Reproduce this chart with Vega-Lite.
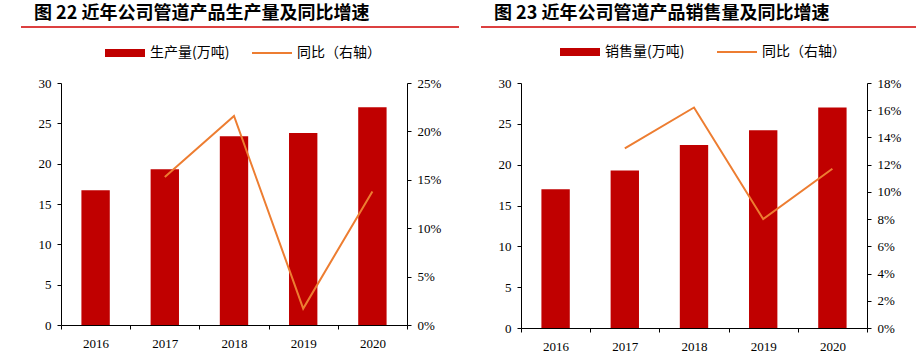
{
  "$schema": "https://vega.github.io/schema/vega-lite/v6.json",
  "padding": {"left": 20, "top": 5, "right": 0, "bottom": 5},
  "background": "white",
  "config": {
    "view": {"stroke": null},
    "axis": {
      "labelFont": "Liberation Serif", "labelFontSize": 13, "labelColor": "#000",
      "domainColor": "#000", "tickColor": "#000", "tickSize": 4, "labelPadding": 6,
      "grid": false, "title": null
    },
    "legend": {"labelFont": "Noto Sans CJK SC", "labelFontSize": 14, "labelColor": "#000", "padding": 0, "labelOffset": 4}
  },
  "bounds": "flush",
  "spacing": 66,
  "vconcat": [
    {
      "bounds": "flush",
      "spacing": 114,
      "hconcat": [
        {
          "width": 346, "height": 0,
          "data": {"values": [{}]},
          "title": {"text": "图 22 近年公司管道产品生产量及同比增速", "anchor": "start", "frame": "group", "font": "Noto Sans CJK SC", "fontWeight": "bold", "fontSize": 18, "color": "#000", "baseline": "bottom", "offset": -24, "dx": -27},
          "mark": {"type": "rule", "color": "#D00000", "strokeWidth": 1.5, "clip": false},
          "encoding": {"x": {"datum": -0.1156, "scale": {"domain": [0, 1]}, "axis": null}, "x2": {"datum": 1.1503}}
        },
        {
          "width": 346, "height": 0,
          "data": {"values": [{}]},
          "title": {"text": "图 23 近年公司管道产品销售量及同比增速", "anchor": "start", "frame": "group", "font": "Noto Sans CJK SC", "fontWeight": "bold", "fontSize": 18, "color": "#000", "baseline": "bottom", "offset": -24, "dx": -27},
          "mark": {"type": "rule", "color": "#D00000", "strokeWidth": 1.5, "clip": false},
          "encoding": {"x": {"datum": -0.1156, "scale": {"domain": [0, 1]}, "axis": null}, "x2": {"datum": 1.1445}}
        }
      ]
    },
    {
      "bounds": "flush",
      "spacing": 114,
      "hconcat": [
        {
          "width": 346, "height": 242,
          "data": {"values": [
            {"year": "2016", "qty": 16.7, "yoy": null},
            {"year": "2017", "qty": 19.3, "yoy": 0.153},
            {"year": "2018", "qty": 23.4, "yoy": 0.216},
            {"year": "2019", "qty": 23.8, "yoy": 0.017},
            {"year": "2020", "qty": 27.0, "yoy": 0.138}
          ]},
          "encoding": {
            "x": {"field": "year", "type": "ordinal", "scale": {"paddingInner": 0, "paddingOuter": 0},
                  "axis": {"labelAngle": 0, "tickBand": "extent", "labelPadding": 8}}
          },
          "layer": [
            {
              "mark": {"type": "bar", "width": {"band": 0.41}},
              "encoding": {
                "y": {"field": "qty", "type": "quantitative", "scale": {"domain": [0, 30]},
                      "axis": {"values": [0, 5, 10, 15, 20, 25, 30]}},
                "color": {"datum": "生产量(万吨)", "scale": {"range": ["#C00000"]},
                          "legend": {"orient": "none", "legendX": 43, "legendY": -51, "symbolType": "M-1,-0.2H1V0.2H-1Z", "symbolSize": 1600, "symbolOpacity": 1}}
              }
            },
            {
              "mark": {"type": "line", "strokeWidth": 2},
              "encoding": {
                "y": {"field": "yoy", "type": "quantitative", "scale": {"domain": [0, 0.25]},
                      "axis": {"orient": "right", "format": ".0%", "values": [0, 0.05, 0.1, 0.15, 0.2, 0.25]}},
                "color": {"datum": "同比（右轴）", "scale": {"range": ["#ED7D31"]},
                          "legend": {"orient": "none", "legendX": 190, "legendY": -51, "symbolType": "stroke", "symbolSize": 1600, "symbolStrokeWidth": 2}}
              }
            }
          ],
          "resolve": {"scale": {"y": "independent", "color": "independent"}}
        },
        {
          "width": 346, "height": 245,
          "data": {"values": [
            {"year": "2016", "qty": 17.0, "yoy": null},
            {"year": "2017", "qty": 19.3, "yoy": 0.132},
            {"year": "2018", "qty": 22.4, "yoy": 0.162},
            {"year": "2019", "qty": 24.2, "yoy": 0.080},
            {"year": "2020", "qty": 27.0, "yoy": 0.117}
          ]},
          "encoding": {
            "x": {"field": "year", "type": "ordinal", "scale": {"paddingInner": 0, "paddingOuter": 0},
                  "axis": {"labelAngle": 0, "tickBand": "extent", "labelPadding": 8}}
          },
          "layer": [
            {
              "mark": {"type": "bar", "width": {"band": 0.41}},
              "encoding": {
                "y": {"field": "qty", "type": "quantitative", "scale": {"domain": [0, 30]},
                      "axis": {"values": [0, 5, 10, 15, 20, 25, 30]}},
                "color": {"datum": "销售量(万吨)", "scale": {"range": ["#C00000"]},
                          "legend": {"orient": "none", "legendX": 38, "legendY": -52, "symbolType": "M-1,-0.2H1V0.2H-1Z", "symbolSize": 1600, "symbolOpacity": 1}}
              }
            },
            {
              "mark": {"type": "line", "strokeWidth": 2},
              "encoding": {
                "y": {"field": "yoy", "type": "quantitative", "scale": {"domain": [0, 0.18]},
                      "axis": {"orient": "right", "format": ".0%", "values": [0, 0.02, 0.04, 0.06, 0.08, 0.1, 0.12, 0.14, 0.16, 0.18]}},
                "color": {"datum": "同比（右轴）", "scale": {"range": ["#ED7D31"]},
                          "legend": {"orient": "none", "legendX": 195, "legendY": -52, "symbolType": "stroke", "symbolSize": 1600, "symbolStrokeWidth": 2}}
              }
            }
          ],
          "resolve": {"scale": {"y": "independent", "color": "independent"}}
        }
      ]
    }
  ]
}
